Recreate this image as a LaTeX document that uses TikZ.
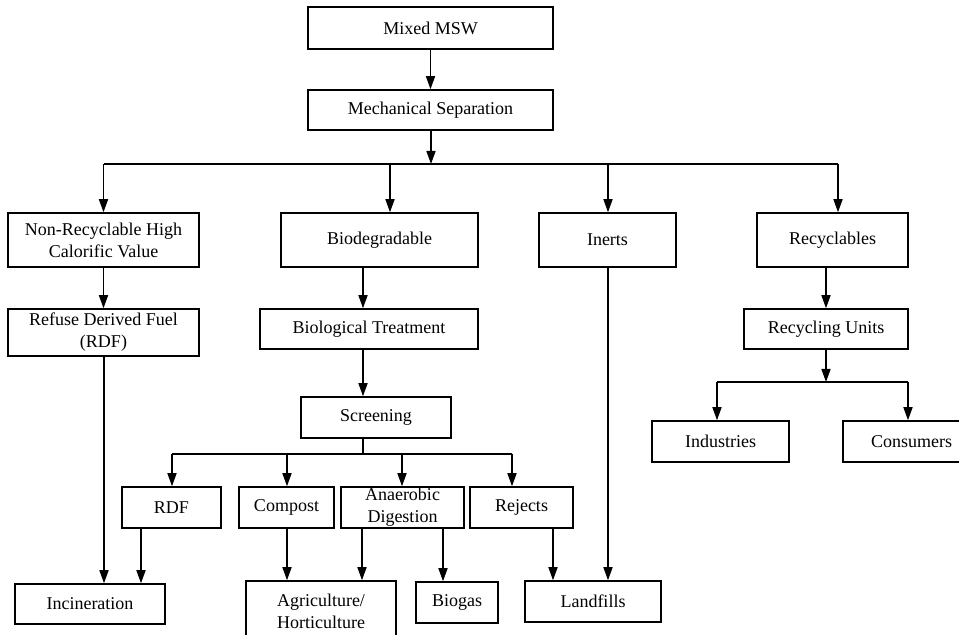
\documentclass[tikz,border=0pt]{standalone}
\usepackage{fontspec}
\setmainfont{Liberation Serif}
\usetikzlibrary{arrows.meta,calc}

\begin{document}
\begin{tikzpicture}[x=0.5pt,y=-0.5pt,>={Triangle[length=6.5pt,width=4.5pt]},
      line width=0.75pt,
      box/.style={draw,rectangle,align=center,inner xsep=1pt,inner ysep=0pt,
        font=\fontsize{9}{11}\selectfont}]
      \useasboundingbox (0,0) rectangle (959,635);

      \node[box,minimum width=122.5pt,minimum height=21pt] (msw)  at (430.5, 28)  {Mixed MSW};
      \node[box,minimum width=122.5pt,minimum height=20pt] (mech) at (430.5,110)  {Mechanical Separation};

      \node[box,minimum width=95.5pt,minimum height=27pt] (nonrec) at (103.5,240) {Non-Recyclable High\\Calorific Value};
      \node[box,minimum width=98.5pt,minimum height=27pt] (bio)    at (379.5,240) {Biodegradable};
      \node[box,minimum width=68.5pt,minimum height=27pt] (inert)  at (607.5,240) {Inerts};
      \node[box,minimum width=75.5pt,minimum height=27pt] (recy)   at (832.5,240) {Recyclables};

      \node[box,minimum width=95.5pt,minimum height=23.5pt] (rdffuel)  at (103.5,332.5) {Refuse Derived Fuel\\(RDF)};
      \node[box,minimum width=109pt,minimum height=20pt]    (biotreat) at (369,329)     {Biological Treatment};
      \node[box,minimum width=82pt,minimum height=20pt]     (recunits) at (826,329)     {Recycling Units};

      \node[box,minimum width=75pt,minimum height=20.5pt] (screen) at (376,417.5) {Screening};

      \node[box,minimum width=68.5pt,minimum height=20.5pt] (indus) at (720.5,441.5) {Industries};
      \node[box,minimum width=68.5pt,minimum height=20.5pt] (cons)  at (911.5,441.5) {Consumers};

      \node[box,minimum width=49.5pt,minimum height=20.5pt] (rdf)     at (171.5,507.5) {RDF};
      \node[box,minimum width=47.5pt,minimum height=20.5pt] (compost) at (286.5,507.5) {Compost};
      \node[box,minimum width=61.5pt,minimum height=20.5pt] (anaer)   at (402.5,507.5) {Anaerobic\\Digestion};
      \node[box,minimum width=51.5pt,minimum height=20.5pt] (rejects) at (521.5,507.5) {Rejects};

      \node[box,minimum width=75pt,minimum height=20pt]   (incin)  at (90,604)    {Incineration};
      \node[box,minimum width=75pt,minimum height=30pt]   (agri)   at (321,611)   {Agriculture/\\Horticulture};
      \node[box,minimum width=41pt,minimum height=20.5pt] (biogas) at (457,602.5) {Biogas};
      \node[box,minimum width=68pt,minimum height=20.5pt] (landf)  at (593,601.5) {Landfills};

      % branch points
      \coordinate (s1) at (431,164);
      \coordinate (s2) at (363,454);
      \coordinate (s3) at (826,382);

      \draw[->] (msw) -- (mech);
      \draw[->] (mech.south -| s1) -- (s1);
      \draw (s1 -| nonrec) -- (838,164);
      \draw[->] (nonrec.north |- s1) -- (nonrec.north);
      \draw[->] (390,164) -- (bio.north -| 390,0);
      \draw[->] (608,164) -- (inert.north -| 608,0);
      \draw[->] (838,164) -- (recy.north -| 838,0);

      \draw[->] (nonrec) -- (rdffuel);
      \draw[->] (bio.south -| s2) -- (biotreat.north -| s2);
      \draw[->] (biotreat.south -| s2) -- (screen.north -| s2);
      \draw (screen.south -| s2) -- (s2);
      \draw (172,454) -- (512,454);
      \draw[->] (172,454) -- (rdf.north -| 172,0);
      \draw[->] (287,454) -- (compost.north -| 287,0);
      \draw[->] (402,454) -- (anaer.north -| 402,0);
      \draw[->] (512,454) -- (rejects.north -| 512,0);

      \draw[->] (rdffuel.south -| 104,0) -- (incin.north -| 104,0);
      \draw[->] (rdf.south -| 141,0) -- (incin.north -| 141,0);
      \draw[->] (compost.south -| 287,0) -- (agri.north -| 287,0);
      \draw[->] (anaer.south -| 362,0) -- (agri.north -| 362,0);
      \draw[->] (anaer.south -| 443,0) -- (biogas.north -| 443,0);
      \draw[->] (rejects.south -| 553,0) -- (landf.north -| 553,0);
      \draw[->] (inert.south -| 608,0) -- (landf.north -| 608,0);

      \draw[->] (recy.south -| s3) -- (recunits.north -| s3);
      \draw[->] (recunits.south -| s3) -- (s3);
      \draw (717,382) -- (908,382);
      \draw[->] (717,382) -- (indus.north -| 717,0);
      \draw[->] (908,382) -- (cons.north -| 908,0);
\end{tikzpicture}
\end{document}
